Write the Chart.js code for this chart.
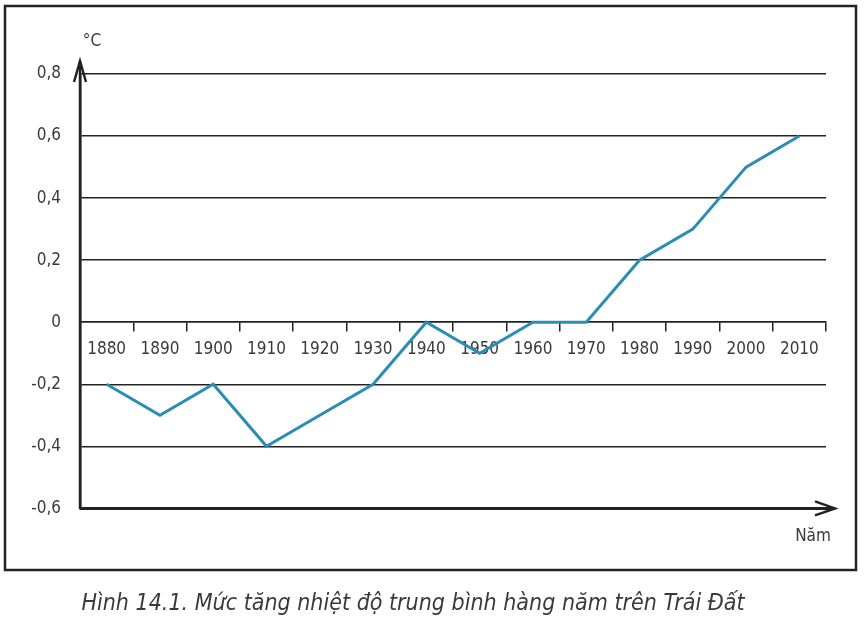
<!DOCTYPE html>
<html lang="vi">
<head>
    <meta charset="UTF-8">
    <title>Hình 14.1. Mức tăng nhiệt độ trung bình hàng năm trên Trái Đất</title>
    <script src="https://cdn.jsdelivr.net/npm/chart.js@4.4.1/dist/chart.umd.min.js"></script>
    <style>
        body, html {
            margin: 0;
            padding: 0;
            background: #fff;
        }
    </style>
</head>
<body>
    <canvas id="myChart" width="865" height="626"></canvas>

    <script>
        // Data
        const years = ['1880', '1890', '1900', '1910', '1920', '1930', '1940',
                       '1950', '1960', '1970', '1980', '1990', '2000', '2010'];
        const tempRise = [-0.2, -0.3, -0.2, -0.4, -0.3, -0.2, 0, -0.1, 0, 0, 0.2, 0.3, 0.5, 0.6];
        const yTicks = [-0.6, -0.4, -0.2, 0, 0.2, 0.4, 0.6, 0.8];
        const yUnit = '°C';
        const xUnit = 'Năm';
        const caption = 'Hình 14.1. Mức tăng nhiệt độ trung bình hàng năm trên Trái Đất';

        const fontFamily = "'DejaVu Sans Condensed', 'Liberation Sans Narrow', sans-serif";
        const ink = '#222';
        const textColor = '#3a3a3a';

        // Outer frame, arrow-headed axes and the unit labels
        const framePlugin = {
            id: 'frame',
            afterDraw(chart) {
                const ctx = chart.ctx;
                const area = chart.chartArea;
                const yScale = chart.scales.y;
                const baseY = yScale.getPixelForValue(yScale.min);
                const left = area.left;

                ctx.save();
                ctx.strokeStyle = ink;
                ctx.lineCap = 'butt';

                // frame around the chart
                ctx.lineWidth = 2.5;
                ctx.strokeRect(5, 6, 851, 564);

                // y axis with arrow
                ctx.lineWidth = 2.5;
                ctx.beginPath();
                ctx.moveTo(left, baseY);
                ctx.lineTo(left, area.top - 13);
                ctx.stroke();
                ctx.lineJoin = 'miter';
                ctx.beginPath();
                ctx.moveTo(left - 6, area.top + 8);
                ctx.lineTo(left, area.top - 13);
                ctx.lineTo(left + 6, area.top + 8);
                ctx.stroke();

                // x axis with arrow
                const tipX = area.right + 9;
                ctx.lineWidth = 3;
                ctx.beginPath();
                ctx.moveTo(left, baseY);
                ctx.lineTo(tipX, baseY);
                ctx.stroke();
                ctx.lineWidth = 2.5;
                ctx.beginPath();
                ctx.moveTo(tipX - 20, baseY - 7);
                ctx.lineTo(tipX, baseY);
                ctx.lineTo(tipX - 20, baseY + 7);
                ctx.stroke();

                // unit labels
                ctx.fillStyle = textColor;
                ctx.font = '17px ' + fontFamily;
                ctx.textAlign = 'center';
                ctx.textBaseline = 'middle';
                ctx.fillText(yUnit, left + 12, area.top - 32);
                ctx.fillText(xUnit, area.right - 13, baseY + 28);
                ctx.restore();
            }
        };

        const ctx = document.getElementById('myChart').getContext('2d');
        const myChart = new Chart(ctx, {
            type: 'line',
            data: {
                labels: years,
                datasets: [{
                    label: 'Mức tăng nhiệt độ',
                    data: tempRise,
                    borderColor: '#2b8cb4',
                    borderWidth: 3,
                    pointRadius: 0,
                    tension: 0,
                    clip: false
                }]
            },
            options: {
                responsive: false,
                animation: false,
                layout: {
                    padding: { left: 0, top: 74, right: 39, bottom: 0 }
                },
                plugins: {
                    legend: { display: false },
                    tooltip: { enabled: false },
                    title: {
                        display: true,
                        position: 'bottom',
                        text: caption,
                        color: textColor,
                        font: { family: fontFamily, size: 23, style: 'italic', weight: 'normal' },
                        padding: { top: 82, bottom: 8 }
                    }
                },
                scales: {
                    x: {
                        type: 'category',
                        position: { y: 0 },
                        offset: true,
                        grid: {
                            offset: true,
                            drawOnChartArea: false,
                            drawTicks: true,
                            tickLength: 9,
                            color: ink,
                            lineWidth: 1.5
                        },
                        border: { display: true, color: ink, width: 1.5 },
                        ticks: {
                            color: textColor,
                            font: { family: fontFamily, size: 17 },
                            padding: 8,
                            maxRotation: 0,
                            autoSkip: false
                        }
                    },
                    y: {
                        min: -0.6,
                        max: 0.8,
                        afterBuildTicks: scale => {
                            scale.ticks = yTicks.map(v => ({ value: v }));
                        },
                        afterFit: scale => {
                            scale.width = 80;
                        },
                        grid: {
                            color: ink,
                            lineWidth: 1.5,
                            drawTicks: false
                        },
                        border: { display: true, color: ink, width: 2.5 },
                        ticks: {
                            color: textColor,
                            font: { family: fontFamily, size: 17 },
                            padding: 19,
                            callback: v => v === 0 ? '0' : v.toFixed(1).replace('.', ',')
                        }
                    }
                }
            },
            plugins: [framePlugin]
        });
    </script>
</body>
</html>
